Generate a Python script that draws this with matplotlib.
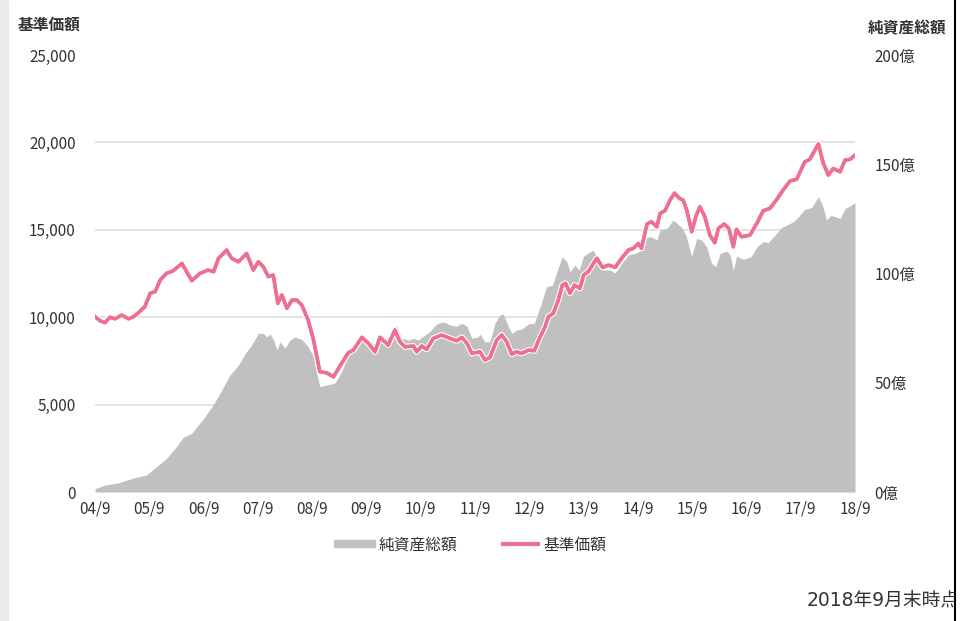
import matplotlib
matplotlib.use("Agg")
import matplotlib.pyplot as plt
import matplotlib.patheffects as pe
from matplotlib.lines import Line2D
from matplotlib.patches import Rectangle

plt.rcParams['font.family'] = ['Noto Sans CJK JP', 'DejaVu Sans']

# months counted from 2004/9
nav_months = [0, 2.2, 5.2, 8.1, 11.4, 13.6, 15.8, 17.7, 19.5, 21.4, 22.8, 24.3, 26.1, 28, 29.8,
              31.7, 33.2, 34.6, 36.1, 37.2, 38, 38.7, 39.5, 40.2, 40.9, 42, 43.1, 44.2, 45.7,
              47.1, 48.3, 49, 49.7, 51.2, 53, 54.5, 56, 57.5, 59, 60.4, 61.9, 63, 64.5, 65.9,
              66.7, 67.8, 69.3, 70.4, 71.5, 72.6, 74, 75.5, 77, 78.5, 79.9, 81.1, 82.2, 83.3,
              84.7, 85.1, 86.2, 87.3, 88.4, 89.5, 90.2, 91.4, 92.1, 93.2, 94.3, 95.8, 97.1,
              98.4, 99.8, 101.1, 102.1, 103.3, 104.3, 105, 106.1, 107, 108, 109.4, 110.1,
              111.3, 112.4, 113.8, 115, 116.4, 117.9, 119.4, 120.8, 122, 123, 124.2, 124.9,
              126.4, 127.8, 129.7, 130.6, 131.9, 133, 134.1, 135.2, 136.3, 137.2, 138.2,
              139.6, 140.4, 141.1, 141.8, 143.3, 145, 146.3, 147.7, 148.8, 150.3, 151.8,
              153.3, 154.4, 155.5, 156.9, 158.4, 159.9, 160.8, 161.7, 162.7, 163.6, 164.7,
              165.8, 166.9, 168]
# 純資産総額 (億円)
nav_total = [1.5, 3.2, 4.2, 6.2, 7.8, 11.6, 15.4, 20.0, 25.0, 26.9, 30.6, 34.5, 39.8, 46.6, 53.5,
             58.1, 63.4, 67.3, 72.6, 72.6, 71.0, 72.3, 69.5, 65.0, 68.8, 65.8, 69.5, 71.0, 69.8,
             66.5, 61.9, 54.3, 48.2, 49.0, 49.8, 55.0, 62.7, 66.5, 70.8, 69.8, 67.3, 71.0, 70.3,
             74.9, 75.9, 70.3, 69.5, 70.3, 69.5, 71.4, 73.4, 76.9, 77.9, 76.4, 75.9, 77.2, 75.9,
             70.3, 71.0, 72.2, 68.8, 68.8, 77.2, 81.0, 81.4, 75.7, 72.6, 74.2, 74.5, 76.9, 77.2,
             84.8, 93.9, 94.7, 100.8, 107.7, 105.4, 100.8, 103.8, 101.6, 108.0, 109.9, 110.7,
             106.2, 101.6, 101.6, 100.3, 104.6, 108.5, 109.2, 110.7, 116.6, 116.8, 115.3, 119.9,
             120.6, 124.5, 121.1, 117.6, 107.7, 116.1, 115.3, 112.2, 104.6, 103.1, 109.2,
             110.3, 108.5, 101.3, 108.0, 106.5, 107.7, 112.2, 114.6, 114.1, 117.6, 121.1,
             122.6, 123.7, 126.0, 129.4, 130.2, 135.1, 131.4, 124.5, 126.7, 126.0, 125.2,
             129.8, 130.9, 132.4]

price_months = [0, 1.1, 2.2, 3.3, 4.4, 5.9, 7.4, 8.5, 9.6, 11, 12.2, 13.3, 14.4, 15.8, 17.3, 19.2,
                21.4, 23.2, 25, 26.2, 27.3, 29.1, 30.2, 31.7, 33.5, 35, 36.1, 37.2, 38.3, 39.4,
                40.4, 41.3, 42.4, 43.5, 44.6, 45.7, 47.1, 48.3, 49.7, 51.2, 52.7, 54.5, 56, 57.1,
                59, 60.4, 61.9, 63, 64.8, 66.3, 67.4, 68.5, 70.4, 71.1, 72.2, 73.3, 74.8, 76.6,
                78.5, 79.9, 81.1, 82.2, 83.3, 85.1, 86.2, 87.3, 88.8, 89.9, 91, 92.1, 93.2, 94.3,
                95.8, 97.1, 98.4, 99.5, 100.2, 101.3, 102.4, 103.3, 104, 105, 106, 107.2, 108,
                109, 110.9, 112.2, 113.5, 115, 116.4, 117.9, 119, 120.1, 120.8, 122, 123, 124.2,
                124.9, 126, 127.1, 128.1, 129.2, 130, 130.8, 131.9, 132.8, 133.7, 134.8, 135.9,
                137, 137.8, 139.1, 140.1, 141.1, 141.8, 142.9, 144.8, 146.3, 147.7, 149.2, 150.7,
                152.1, 153.6, 155.1, 156.9, 158, 159.9, 161, 162.1, 163.2, 164.7, 165.8, 166.9,
                168]
# 基準価額 (円)
price = [10030, 9800, 9690, 10000, 9910, 10120, 9910, 10030, 10260, 10600, 11370, 11460, 12130,
         12510, 12660, 13080, 12090, 12510, 12700, 12600, 13370, 13840, 13370, 13170, 13650,
         12700, 13170, 12890, 12320, 12410, 10790, 11270, 10510, 10980, 10980, 10700, 9840, 8690,
         6880, 6820, 6590, 7360, 7970, 8120, 8850, 8510, 8020, 8850, 8410, 9270, 8600, 8310,
         8350, 8020, 8350, 8160, 8790, 8980, 8790, 8650, 8850, 8510, 7930, 8020, 7550, 7700,
         8690, 8980, 8600, 7890, 8020, 7930, 8120, 8080, 8880, 9460, 10030, 10220, 10980, 11840,
         11940, 11370, 11840, 11650, 12410, 12600, 13370, 12850, 12980, 12850, 13370, 13840,
         13940, 14220, 13940, 15330, 15460, 15170, 15940, 16090, 16700, 17100, 16800, 16700,
         16130, 14890, 15750, 16320, 15750, 14700, 14260, 15080, 15330, 15080, 14030, 15030,
         14600, 14700, 15370, 16090, 16230, 16740, 17270, 17790, 17890, 18890, 19030, 19910,
         18800, 18130, 18510, 18320, 18990, 19030, 19280]

tick_pos = list(range(0, 169, 12))
tick_labels = ['04/9', '05/9', '06/9', '07/9', '08/9', '09/9', '10/9', '11/9', '12/9',
               '13/9', '14/9', '15/9', '16/9', '17/9', '18/9']

text_c = '#333333'
pink = '#EE7090'
grey = '#C0C0C0'

fig = plt.figure(figsize=(9.62, 6.21), dpi=100)
ax = fig.add_axes([0.0988, 0.2077, 0.79, 0.7037])
ax2 = ax.twinx()
ax.set_zorder(ax2.get_zorder() + 1)
ax.patch.set_visible(False)

# area (right axis)
ax2.fill_between(nav_months, nav_total, 0, color=grey, linewidth=0)
ax2.set_ylim(0, 200)
ax2.set_yticks([0, 50, 100, 150, 200])
ax2.set_yticklabels(['0億', '50億', '100億', '150億', '200億'])
ax2.set_yticks([0, 40, 80, 120, 160, 200], minor=True)
ax2.grid(which='minor', axis='y', color='#E2E2E2', linewidth=1.4)
ax2.set_axisbelow(True)
ax2.tick_params(axis='y', which='both', length=0, labelsize=11, colors=text_c, pad=14)

# price line (left axis)
ax.plot(price_months, price, color=pink, linewidth=2.5, solid_joinstyle='round',
        path_effects=[pe.withStroke(linewidth=4.3, foreground='white'), pe.Normal()])
ax.set_ylim(0, 25000)
ax.set_yticks([0, 5000, 10000, 15000, 20000, 25000])
ax.set_yticklabels(['0', '5,000', '10,000', '15,000', '20,000', '25,000'])
ax.set_xlim(0, 168)
ax.set_xticks(tick_pos)
ax.set_xticklabels(tick_labels)
ax.tick_params(axis='both', length=0, labelsize=11, colors=text_c)
ax.tick_params(axis='y', pad=14)
ax.tick_params(axis='x', pad=6)

for a in (ax, ax2):
    for s in a.spines.values():
        s.set_visible(False)

fig.text(18 / 962, 1 - 25 / 621, '基準価額', fontsize=11.3, color=text_c, va='center', ha='left',
         fontweight='bold')
fig.text(868 / 962, 1 - 28 / 621, '純資産総額', fontsize=11.3, color=text_c, va='center', ha='left',
         fontweight='bold')

handles = [Line2D([], [], color=grey, linewidth=6),
           Line2D([], [], color=pink, linewidth=3)]
fig.legend(handles, ['純資産総額', '基準価額'], loc='center', bbox_to_anchor=(0.491, 1 - 545 / 621),
           ncol=2, frameon=False, fontsize=11.3, handlelength=2.2, columnspacing=2.9,
           handletextpad=0.4, labelcolor=text_c)

fig.text(807 / 962, 1 - 600 / 621, '2018年9月末時点', fontsize=13.5, color=text_c, va='center',
         ha='left', family=['DejaVu Sans', 'Noto Sans CJK JP'])

# screenshot edges
fig.patches.append(Rectangle((0, 0), 8 / 962, 1, transform=fig.transFigure, color='#EBEBEB',
                             zorder=10))
fig.patches.append(Rectangle((954 / 962, 0), 8 / 962, 1, transform=fig.transFigure,
                             color='white', zorder=10))
fig.add_artist(Line2D([955 / 962, 955 / 962], [0, 1], transform=fig.transFigure, color='black',
                      linewidth=1.5, zorder=11))

fig.savefig('out.png', dpi=100)
